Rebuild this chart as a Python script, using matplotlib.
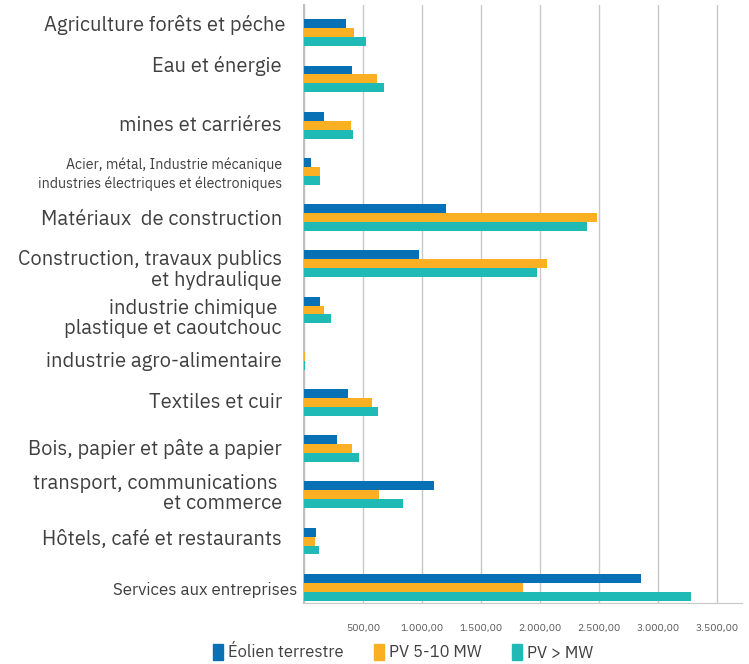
import numpy as np
import matplotlib
matplotlib.use("Agg")
import matplotlib.pyplot as plt
import matplotlib.transforms as mtransforms
from matplotlib import font_manager
from matplotlib.ticker import FuncFormatter, MultipleLocator
from matplotlib.patches import Patch

# data
categories = [
    "Agriculture forêts et péche",
    "Eau et énergie",
    "mines et carriéres",
    "Acier, métal, Industrie mécanique\nindustries électriques et électroniques",
    "Matériaux  de construction",
    "Construction, travaux publics\net hydraulique",
    "industrie chimique \nplastique et caoutchouc",
    "industrie agro-alimentaire",
    "Textiles et cuir",
    "Bois, papier et pâte a papier",
    "transport, communications \net commerce",
    "Hôtels, café et restaurants",
    "Services aux entreprises",
]
eolien = [356, 409, 170, 61, 1206, 971, 138, 0, 376, 283, 1097, 105, 2857]
pv_5_10 = [425, 619, 401, 138, 2485, 2060, 170, 12, 579, 409, 639, 97, 1858]
pv_big = [526, 680, 417, 138, 2400, 1975, 231, 12, 627, 469, 842, 130, 3274]
series_names = ["Éolien terrestre", "PV 5-10 MW", "PV > MW"]

# per-label nudges (points), sizes and line spacing, as laid out in the original
label_dy = [5.5, 9.5, 0, -2, -1.5, -4.5, -6, -3.5, 0, 0, 1, 1, -2]
label_dx = [3, 0, 0, 0, 0, 0, 0, 0, 0, 0, 0, 0, 11.5]
label_fs = [14.5, 14.5, 14.5, 10.2, 14.5, 14.5, 14.5, 14.5, 14.5, 14.5, 14.5, 14.5, 12.2]
label_ls = [1.0, 1.0, 1.0, 1.35, 1.0, 1.1, 1.05, 1.0, 1.0, 1.0, 1.05, 1.0, 1.0]

COLORS = ["#0870B4", "#FAB022", "#1FBAB5"]
TEXT = "#404040"

names = {f.name for f in font_manager.fontManager.ttflist}
FONT = next((n for n in ["IBM Plex Sans", "IBM Plex Sans Condensed", "Roboto Condensed"]
             if n in names), "DejaVu Sans")
plt.rcParams["font.family"] = [FONT, "DejaVu Sans"]

fig = plt.figure(figsize=(7.49, 6.64), dpi=100, facecolor="white")
ax = fig.add_axes([0.4059, 0.0919, 0.5848, 0.9006])

y = np.arange(len(categories))
h = 0.193
ax.barh(y - h, eolien, height=h, color=COLORS[0], zorder=3)
ax.barh(y, pv_5_10, height=h, color=COLORS[1], zorder=3)
ax.barh(y + h, pv_big, height=h, color=COLORS[2], zorder=3)

ax.set_xlim(0, 3710)
ax.set_ylim(12.34, -0.60)
ax.xaxis.set_major_locator(MultipleLocator(500))
ax.xaxis.set_major_formatter(FuncFormatter(
    lambda v, p: "" if v <= 0 else f"{v:,.2f}".replace(",", " ").replace(".", ",").replace(" ", ".")))
ax.tick_params(axis="x", length=0, labelsize=7.5, colors="#595959", pad=15)
ax.set_yticks([])
ax.grid(axis="x", color="#C8C8C8", lw=1, zorder=0)

for s in ["top", "right"]:
    ax.spines[s].set_visible(False)
ax.spines["left"].set_color("#BFBFBF")
ax.spines["left"].set_linewidth(1.5)
ax.spines["bottom"].set_color("#C8C8C8")

blend = mtransforms.blended_transform_factory(ax.transAxes, ax.transData)
for i, lab in enumerate(categories):
    tr = blend + mtransforms.ScaledTranslation(
        (-16 + label_dx[i]) / 72, label_dy[i] / 72, fig.dpi_scale_trans)
    ax.text(0, i, lab, transform=tr, ha="right", va="center",
            multialignment="right", fontsize=label_fs[i], color=TEXT,
            linespacing=label_ls[i])

handles = [Patch(color=c) for c in COLORS]
fig.legend(handles, series_names, loc="center", ncol=3, frameon=False,
           bbox_to_anchor=(403 / 749, 1 - 652 / 664), fontsize=12,
           handlelength=0.6, handleheight=1.1, handletextpad=0.3,
           columnspacing=1.8, labelcolor=TEXT)

fig.savefig("out.png", dpi=100, facecolor="white")
